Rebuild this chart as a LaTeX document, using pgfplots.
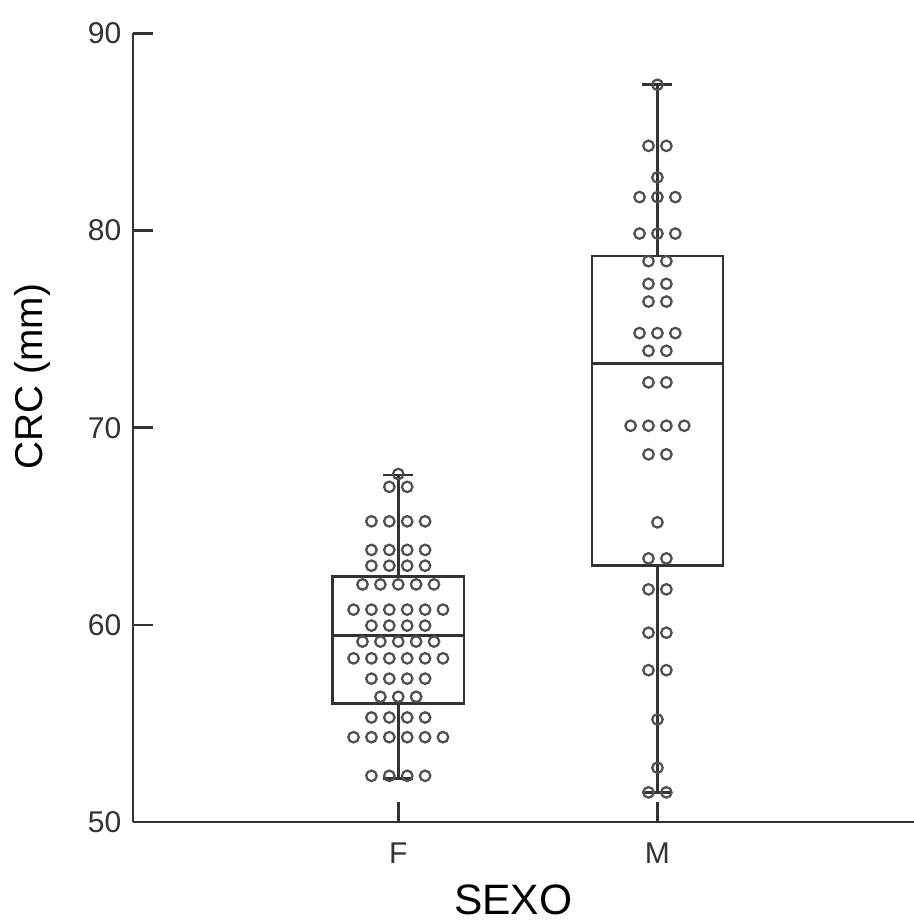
\documentclass[border=0pt]{standalone}
\usepackage{fontspec}
\setmainfont{Liberation Sans}
\usepackage{pgfplots}
\usepackage{pgfplotstable}
\pgfplotsset{compat=1.18}
\usepgfplotslibrary{statistics}

\definecolor{axisgray}{HTML}{333333}
\definecolor{dotgray}{HTML}{505050}

% Dot rows: x = group position + horizontal offset, y = CRC (mm)
\pgfplotstableread{
x y
1.0000 67.65
0.9655 67.0
1.0345 67.0
0.8965 65.25
0.9655 65.25
1.0345 65.25
1.1035 65.25
0.8965 63.8
0.9655 63.8
1.0345 63.8
1.1035 63.8
0.8965 63.0
0.9655 63.0
1.0345 63.0
1.1035 63.0
0.8620 62.05
0.9310 62.05
1.0000 62.05
1.0690 62.05
1.1380 62.05
0.8275 60.77
0.8965 60.77
0.9655 60.77
1.0345 60.77
1.1035 60.77
1.1725 60.77
0.8965 59.96
0.9655 59.96
1.0345 59.96
1.1035 59.96
0.8620 59.15
0.9310 59.15
1.0000 59.15
1.0690 59.15
1.1380 59.15
0.8275 58.3
0.8965 58.3
0.9655 58.3
1.0345 58.3
1.1035 58.3
1.1725 58.3
0.8965 57.27
0.9655 57.27
1.0345 57.27
1.1035 57.27
0.9310 56.35
1.0000 56.35
1.0690 56.35
0.8965 55.3
0.9655 55.3
1.0345 55.3
1.1035 55.3
0.8275 54.3
0.8965 54.3
0.9655 54.3
1.0345 54.3
1.1035 54.3
1.1725 54.3
0.8965 52.34
0.9655 52.34
1.0345 52.34
1.1035 52.34
}\femdots

\pgfplotstableread{
x y
2.0000 87.4
1.9655 84.3
2.0345 84.3
2.0000 82.7
1.9310 81.7
2.0000 81.7
2.0690 81.7
1.9310 79.85
2.0000 79.85
2.0690 79.85
1.9655 78.45
2.0345 78.45
1.9655 77.3
2.0345 77.3
1.9655 76.4
2.0345 76.4
1.9310 74.8
2.0000 74.8
2.0690 74.8
1.9655 73.9
2.0345 73.9
1.9655 72.3
2.0345 72.3
1.8965 70.1
1.9655 70.1
2.0345 70.1
2.1035 70.1
1.9655 68.65
2.0345 68.65
2.0000 65.2
1.9655 63.37
2.0345 63.37
1.9655 61.8
2.0345 61.8
1.9655 59.6
2.0345 59.6
1.9655 57.7
2.0345 57.7
2.0000 55.2
2.0000 52.75
1.9655 51.5
2.0345 51.5
}\masdots

\begin{document}
\begin{tikzpicture}
\begin{axis}[
  scale only axis,
  width=312pt, height=315.2pt,
  xmin=-0.0232, xmax=2.988,
  ymin=50, ymax=90,
  axis lines*=left,
  axis line style={axisgray, line width=1pt},
  tick style={axisgray, line width=1pt},
  tick align=inside,
  major tick length=8pt,
  xtick={1,2}, xticklabels={F,M},
  ytick={50,60,70,80,90},
  /pgf/number format/assume math mode=true,
  ticklabel style={font=\fontsize{12}{14}\selectfont, text=axisgray},
  yticklabel style={xshift=-1.2pt},
  xticklabel style={yshift=-5pt},
  every axis y label/.style={at={(rel axis cs:-0.1051,0.565)}, rotate=90,
    anchor=south, inner sep=0pt, font=\fontsize{15.5}{18}\selectfont},
  every axis x label/.style={at={(rel axis cs:0.487,-0.1168)},
    anchor=base, inner sep=0pt, font=\fontsize{17}{20}\selectfont},
  ylabel={CRC (mm)},
  xlabel={SEXO},
  clip=false,
  boxplot/draw direction=y,
  boxplot/box extend=0.506,
  boxplot/whisker extend=0.116,
]
% box plots
\addplot+[draw=black!80, line width=1pt, solid, fill=none,
  boxplot prepared={draw position=1, lower whisker=52.2, lower quartile=56.0,
    median=59.45, upper quartile=62.45, upper whisker=67.6}] coordinates {};
\addplot+[draw=black!80, line width=1pt, solid, fill=none,
  boxplot prepared={draw position=2, lower whisker=51.5, lower quartile=63.0,
    median=73.25, upper quartile=78.7, upper whisker=87.4}] coordinates {};
% individual observations
\addplot[only marks, mark=o, mark size=2.1pt,
  mark options={draw=dotgray, line width=0.9pt, fill=none}]
  table[x=x, y=y] {\femdots};
\addplot[only marks, mark=o, mark size=2.1pt,
  mark options={draw=dotgray, line width=0.9pt, fill=none}]
  table[x=x, y=y] {\masdots};
\coordinate (bl) at (rel axis cs:0,0);
\coordinate (tr) at (rel axis cs:1,1);
\end{axis}
\pgfresetboundingbox
\path[use as bounding box] ([xshift=-53.2pt, yshift=-39.2pt]bl) rectangle ([yshift=13.4pt]tr);
\end{tikzpicture}
\end{document}
